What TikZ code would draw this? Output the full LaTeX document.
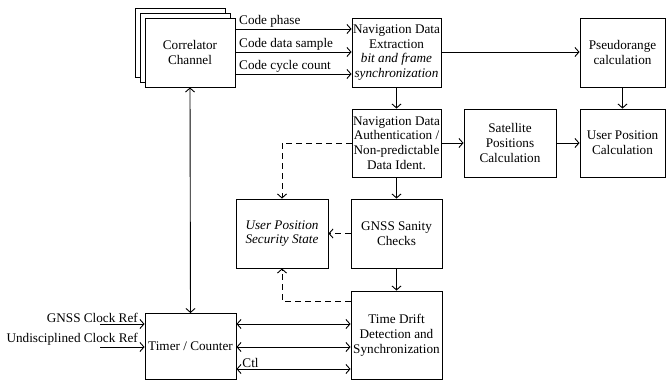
\documentclass[tikz,border=0pt]{standalone}
\usepackage{fontspec}
\setmainfont{Liberation Serif}
\usetikzlibrary{arrows.meta,calc}
\begin{document}
\begin{tikzpicture}[x=1pt,y=-1pt,
  every node/.style={font=\fontsize{13.2}{14.8}\selectfont},
  blk/.style={draw,line width=0.9pt,fill=white,align=center,inner sep=1pt},
  arr/.style={line width=0.9pt,-{Straight Barb[length=4pt,width=9pt]}},
  darr/.style={line width=0.9pt,{Straight Barb[length=4pt,width=9pt]}-{Straight Barb[length=4pt,width=9pt]}},
  dsh/.style={arr,dash pattern=on 6pt off 4pt},
  lbl/.style={inner sep=1pt}]
\useasboundingbox (0,0) rectangle (667,381);
% correlator stack
\node[blk,minimum width=90pt,minimum height=69pt] (c3) at (180,42.5) {};
\node[blk,minimum width=90pt,minimum height=69pt] (c2) at (185,47.5) {};
\node[blk,minimum width=90pt,minimum height=69pt] (corr) at (190,52.5) {Correlator\\Channel};
\node[blk,minimum width=89pt,minimum height=69pt] (nde) at (396.5,52.5) {Navigation Data\\Extraction\\\textit{bit and frame}\\\textit{synchronization}};
\node[blk,minimum width=85pt,minimum height=69pt] (pr) at (622.5,52.5) {Pseudorange\\calculation};
\node[blk,minimum width=89pt,minimum height=68pt] (nda) at (396.5,143) {Navigation Data\\Authentication /\\Non-predictable\\Data Ident.};
\node[blk,minimum width=92pt,minimum height=68pt] (sat) at (510,143) {Satellite\\Positions\\Calculation};
\node[blk,minimum width=85pt,minimum height=68pt] (upc) at (622.5,143) {User Position\\Calculation};
\node[blk,minimum width=91pt,minimum height=69pt] (gsc) at (396.5,233.5) {GNSS Sanity\\Checks};
\node[blk,minimum width=92pt,minimum height=69pt] (upss) at (282,233.5) {\textit{User Position}\\\textit{Security State}};
\node[blk,minimum width=91pt,minimum height=88pt] (tdd) at (396.5,335) {Time Drift\\Detection and\\Synchronization};
\node[blk,minimum width=91pt,minimum height=66pt] (tmr) at (190.5,346.5) {Timer / Counter};
% correlator outputs
\draw[arr] (corr.east |- 0,29) -- node[lbl,above,pos=0.02,anchor=south west] {Code phase} (nde.west |- 0,29);
\draw[arr] (corr.east |- 0,52) -- node[lbl,above,pos=0.02,anchor=south west] {Code data sample} (nde.west |- 0,52);
\draw[arr] (corr.east |- 0,74) -- node[lbl,above,pos=0.02,anchor=south west] {Code cycle count} (nde.west |- 0,74);
% main flow
\draw[arr] (nde.east |- 0,52) -- (pr.west |- 0,52);
\draw[arr] (pr.south) -- (upc.north);
\draw[arr] (nde.south) -- (nda.north);
\draw[arr] (nda.east) -- (sat.west);
\draw[arr] (sat.east) -- (upc.west);
\draw[arr] (nda.south) -- (gsc.north);
\draw[arr] (gsc.south) -- (tdd.north);
% dashed
\draw[dsh] (nda.west) -| (upss.north);
\draw[dsh] (gsc.west) -- (upss.east);
\draw[dsh] (tdd.west |- 0,301) -| (upss.south);
% timer
\draw[darr] (corr.south) -- (tmr.north);
\coordinate (g1) at (100,324);
\coordinate (g2) at (100,347);
\draw[arr] (g1) -- (tmr.west |- g1);
\draw[arr] (g2) -- (tmr.west |- g2);
\node[lbl,anchor=south east] (gl1) at (139,324) {GNSS Clock Ref};
\node[lbl,anchor=south east] (gl2) at (139,347) {Undisciplined Clock Ref};
\draw[darr] (tmr.east |- 0,324) -- (tdd.west |- 0,324);
\draw[darr] (tmr.east |- 0,347) -- (tdd.west |- 0,347);
\draw[darr] (tmr.east |- 0,369) -- node[lbl,pos=0.04,anchor=south west] {Ctl} (tdd.west |- 0,369);
\end{tikzpicture}
\end{document}
